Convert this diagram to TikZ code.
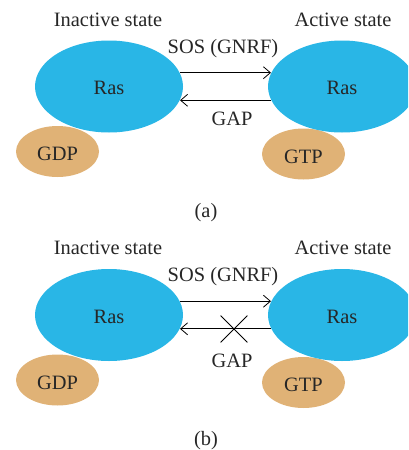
\documentclass[tikz,border=0pt]{standalone}
\usepackage{fontspec}
\setmainfont{Liberation Serif}
\usetikzlibrary{positioning, arrows.meta, shapes.geometric, shapes.misc}
\definecolor{rasblue}{RGB}{41,182,230}
\definecolor{gtan}{RGB}{224,178,118}
\begin{document}
\begin{tikzpicture}[
    x=0.5pt, y=-0.5pt,
    font=\fontsize{10.2}{12}\selectfont,
    ras/.style={ellipse, fill=rasblue, inner sep=0pt, minimum width=74pt, minimum height=46pt, text height=8.2pt, text depth=0pt, text=black!85},
    nucleo/.style={ellipse, fill=gtan, inner sep=0pt, minimum width=41.5pt, minimum height=25.5pt, text height=9.2pt, text depth=0pt, text=black!85},
    txt/.style={anchor=base, inner sep=0pt, text=black!85},
    arrow/.style={-{Straight Barb[length=3.5pt, width=6pt]}, line width=0.4pt}
  ]
  \useasboundingbox (0,0) rectangle (408,450);
  \clip (0,0) rectangle (408,450);

  % (a) GAP active
  \node[nucleo] (gdpA) at (57.5,151.5) {GDP};
  \node[nucleo] (gtpA) at (303.5,154) {GTP};
  \node[ras] (rasLA) at (109,86.5) {Ras};
  \node[ras] (rasRA) at (342,86.5) {Ras};
  \node[txt] (inactA) at (108,26) {Inactive state};
  \node[txt] (actA) at (343,26) {Active state};
  \draw[arrow] (rasLA.11) -- (rasRA.169);
  \draw[arrow] (rasRA.191) -- (rasLA.349);
  \node[txt] (sosA) at (223,53) {SOS (GNRF)};
  \node[txt] (gapA) at (232,125) {GAP};
  \node[txt] (capA) at (206,217) {(a)};

  % (b) GAP blocked
  \begin{scope}[shift={(0,228.5)}]
    \node[nucleo] (gdpB) at (57.5,151.5) {GDP};
    \node[nucleo] (gtpB) at (303.5,154) {GTP};
    \node[ras] (rasLB) at (109,86.5) {Ras};
    \node[ras] (rasRB) at (342,86.5) {Ras};
    \node[txt] (inactB) at (108,26) {Inactive state};
    \node[txt] (actB) at (343,26) {Active state};
    \draw[arrow] (rasLB.11) -- (rasRB.169);
    \draw[arrow] (rasRB.191) -- (rasLB.349);
    \node[cross out, draw, line width=0.4pt, inner sep=0pt, minimum size=13pt] (blockB) at (234,100.5) {};
    \node[txt] (sosB) at (223,53) {SOS (GNRF)};
    \node[txt] (gapB) at (232,138.5) {GAP};
    \node[txt] (capB) at (206,217) {(b)};
  \end{scope}
\end{tikzpicture}
\end{document}
